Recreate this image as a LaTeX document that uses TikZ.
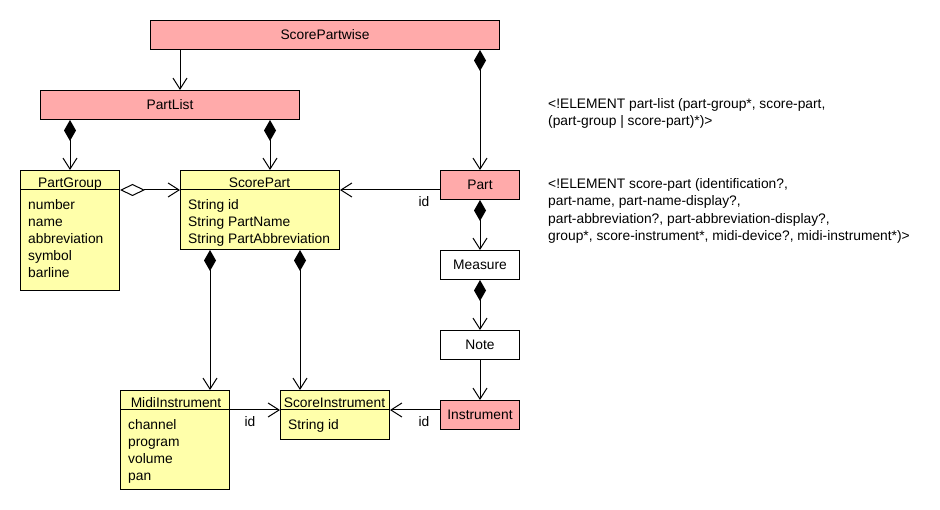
\documentclass[tikz,border=0pt]{standalone}
\usepackage{fontspec}
\setmainfont{Liberation Sans}
\usetikzlibrary{positioning,calc,arrows.meta}
\definecolor{pinkfill}{RGB}{255,170,170}
\definecolor{yelfill}{RGB}{255,255,170}
\tikzset{
  box/.style={draw, line width=1pt, anchor=north west, inner sep=0pt, minimum height=29},
  elem/.style={box, fill=pinkfill},
  plain/.style={box, fill=white},
  cls/.style={box, fill=yelfill},
  hdr/.style={anchor=base, inner sep=0pt},
  attrs/.style={anchor=north west, align=left, inner sep=0pt},
  lbl/.style={inner sep=0pt},
  nav/.style={line width=1pt, -{Straight Barb[length=11pt,width=14pt,line width=1pt]}},
  comp/.style={line width=1pt, {Diamond[length=21pt,width=12pt]}-{Straight Barb[length=11pt,width=14pt,line width=1pt]}},
  aggr/.style={line width=1pt, {Diamond[open,length=25pt,width=12pt,line width=1pt]}-{Straight Barb[length=11pt,width=14pt,line width=1pt]}},
}
\begin{document}
\begin{tikzpicture}[x=1pt,y=-1pt,font={\fontsize{13.8}{17}\selectfont}]
  \useasboundingbox (0,0) rectangle (940,510);
  % root and lists
  \node[elem, minimum width=349] (spw) at (150,20) {ScorePartwise};
  \node[elem, minimum width=259] (pl) at (40,90) {PartList};
  \node[elem, minimum width=79] (pt) at (440,170) {Part};
  \node[plain, minimum width=79] (ms) at (440,250) {Measure};
  \node[plain, minimum width=79] (nt) at (440,330) {Note};
  \node[elem, minimum width=79] (ins) at (440,400) {Instrument};

  % classes with attributes
  \node[cls, minimum width=99, minimum height=120] (pg) at (20,170) {};
  \draw[line width=1pt] ([yshift=-20pt]pg.north west) -- ([yshift=-20pt]pg.north east);
  \node[hdr] (pg-h) at (70,188) {PartGroup};
  \node[attrs] (pg-a) at (28,199) {number\\name\\abbreviation\\symbol\\barline};

  \node[cls, minimum width=159, minimum height=79] (sp) at (180,170) {};
  \draw[line width=1pt] ([yshift=-20pt]sp.north west) -- ([yshift=-20pt]sp.north east);
  \node[hdr] (sp-h) at (259.5,188) {ScorePart};
  \node[attrs] (sp-a) at (188,199) {String id\\String PartName\\String PartAbbreviation};

  \node[cls, minimum width=109, minimum height=99] (mi) at (120,390) {};
  \draw[line width=1pt] ([yshift=-20pt]mi.north west) -- ([yshift=-20pt]mi.north east);
  \node[hdr] (mi-h) at (176,408) {MidiInstrument};
  \node[attrs] (mi-a) at (128,419) {channel\\program\\volume\\pan};

  \node[cls, minimum width=109, minimum height=49] (si) at (280,390) {};
  \draw[line width=1pt] ([yshift=-20pt]si.north west) -- ([yshift=-20pt]si.north east);
  \node[hdr] (si-h) at (334.5,408) {ScoreInstrument};
  \node[attrs] (si-a) at (288,419) {String id};

  % DTD notes
  \node[attrs, font={\fontsize{13.8}{17.5}\selectfont}] (dtd-pl) at (548,98)
    {<!ELEMENT part-list (part-group*, score-part,\\(part-group | score-part)*)>};
  \node[attrs, font={\fontsize{13.8}{17.5}\selectfont}] (dtd-sp) at (548,178)
    {<!ELEMENT score-part (identification?,\\part-name, part-name-display?,\\part-abbreviation?, part-abbreviation-display?,\\group*, score-instrument*, midi-device?, midi-instrument*)>};

  % connectors
  \draw[nav] (spw.south -| 180,0) -- (pl.north -| 180,0);
  \draw[comp] (spw.south -| pt.north) -- (pt.north);
  \draw[comp] (pl.south -| pg.north) -- (pg.north);
  \draw[comp] (pl.south -| 270,0) -- (sp.north -| 270,0);
  \draw[aggr] ([yshift=-20pt]pg.north east) -- ([yshift=-20pt]sp.north west);
  \draw[nav] (pt.west |- 0,190) -- ([yshift=-20pt]sp.north east);
  \draw[comp] (pt.south) -- (ms.north);
  \draw[comp] (ms.south) -- (nt.north);
  \draw[nav] (nt.south) -- (ins.north);
  \draw[comp] (sp.south -| 210,0) -- (mi.north -| 210,0);
  \draw[comp] (sp.south -| 300,0) -- (si.north -| 300,0);
  \draw[nav] ([yshift=-20pt]mi.north east) -- ([yshift=-20pt]si.north west);
  \draw[nav] (ins.west |- 0,410) -- ([yshift=-20pt]si.north east);

  % role labels
  \node[lbl] (id-pt) at (424,202) {id};
  \node[lbl] (id-mi) at (250,422) {id};
  \node[lbl] (id-ins) at (424,422) {id};
\end{tikzpicture}
\end{document}
